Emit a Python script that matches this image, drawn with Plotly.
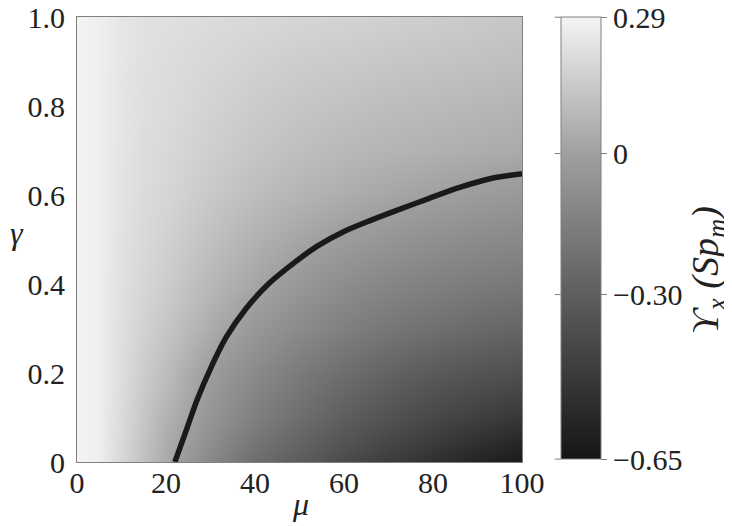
import plotly.graph_objects as go

# grid of the map (mu along x, gamma along y)
mu = [0, 5, 10, 15, 20, 30, 40, 50, 60, 70, 80, 90, 100]
gamma = [0.0, 0.1, 0.2, 0.3, 0.4, 0.5, 0.6, 0.7, 0.8, 0.9, 1.0]

ups_g00 = [0.29, 0.27, 0.19, 0.11, 0.035, -0.11, -0.23, -0.31, -0.39, -0.46, -0.52, -0.58, -0.63]
ups_g01 = [0.29, 0.27, 0.20, 0.13, 0.06, -0.05, -0.15, -0.23, -0.30, -0.36, -0.41, -0.45, -0.49]
ups_g02 = [0.29, 0.27, 0.21, 0.15, 0.10, -0.02, -0.10, -0.17, -0.23, -0.28, -0.32, -0.35, -0.37]
ups_g03 = [0.29, 0.27, 0.215, 0.17, 0.13, 0.04, -0.04, -0.10, -0.15, -0.19, -0.22, -0.25, -0.27]
ups_g04 = [0.29, 0.27, 0.22, 0.185, 0.155, 0.08, 0.02, -0.04, -0.085, -0.12, -0.145, -0.165, -0.18]
ups_g05 = [0.29, 0.27, 0.225, 0.195, 0.17, 0.11, 0.06, 0.017, -0.02, -0.05, -0.075, -0.095, -0.11]
ups_g06 = [0.29, 0.27, 0.23, 0.205, 0.185, 0.14, 0.10, 0.07, 0.045, 0.02, 0.0, -0.02, -0.036]
ups_g07 = [0.29, 0.27, 0.235, 0.21, 0.195, 0.16, 0.13, 0.105, 0.085, 0.07, 0.057, 0.045, 0.035]
ups_g08 = [0.29, 0.27, 0.237, 0.215, 0.205, 0.175, 0.15, 0.13, 0.115, 0.10, 0.09, 0.08, 0.07]
ups_g09 = [0.29, 0.27, 0.24, 0.22, 0.21, 0.19, 0.17, 0.155, 0.145, 0.133, 0.123, 0.114, 0.106]
ups_g10 = [0.29, 0.27, 0.24, 0.225, 0.22, 0.205, 0.195, 0.184, 0.177, 0.166, 0.156, 0.145, 0.134]

# zero level of the map (the thick black curve)
mu_zero = [22, 24.5, 27, 30, 33.5, 38, 43, 48.7, 54, 60, 66, 72, 79, 86, 93, 100]
gamma_zero = [0, 0.07, 0.14, 0.21, 0.28, 0.345, 0.40, 0.447, 0.485, 0.518, 0.543, 0.566,
              0.592, 0.617, 0.637, 0.648]

# colour bar
cbar_vals = [0.29, 0, -0.30, -0.65]
cbar_text = ['0.29', '0', '\u22120.30', '\u22120.65']

z = [ups_g00, ups_g01, ups_g02, ups_g03, ups_g04, ups_g05,
     ups_g06, ups_g07, ups_g08, ups_g09, ups_g10]

zmin, zmax = -0.65, 0.29
def pos(v):
    return (v - zmin) / (zmax - zmin)

greys = [[0, '#151515'], [pos(-0.30), '#5e5e5e'], [pos(0), '#a0a0a0'], [1, '#f4f4f4']]

serif = "'Liberation Serif', 'Times New Roman', serif"
ink = '#222222'
fs = 30

# colour bar placement (paper units)
cb_x, cb_y, cb_len = 1.087, 0.503, 0.993
cb_bottom = cb_y - cb_len / 2

fig = go.Figure()

fig.add_trace(go.Heatmap(
    x=mu, y=gamma, z=z,
    zmin=zmin, zmax=zmax, zsmooth='best',
    colorscale=greys,
    colorbar=dict(
        x=cb_x, xanchor='left', xpad=0,
        y=cb_y, yanchor='middle', ypad=0, len=cb_len, lenmode='fraction',
        thickness=40, thicknessmode='pixels',
        outlinecolor='#808080', outlinewidth=1,
        tickvals=cbar_vals, ticktext=cbar_text,
        ticks='outside', ticklen=6, tickcolor='#808080',
        ticklabeloverflow='allow',
        tickfont=dict(family=serif, size=fs, color=ink),
    ),
))

fig.add_trace(go.Scatter(
    x=mu_zero, y=gamma_zero, mode='lines',
    line=dict(color='#1a1a1a', width=5.5, shape='spline', smoothing=0.8),
    showlegend=False, hoverinfo='skip',
))

fig.update_xaxes(
    range=[0, 100], tickvals=[0, 20, 40, 60, 80, 100],
    ticks='', ticklabelstandoff=-6,
    ticklabeloverflow='allow',
    showgrid=False, zeroline=False, automargin=False,
    showline=True, linecolor='#808080', linewidth=1, mirror=True,
    tickfont=dict(family=serif, size=fs, color=ink),
)
fig.update_yaxes(
    range=[0, 1], tickvals=[0, 0.2, 0.4, 0.6, 0.8, 1.0],
    ticktext=['0', '0.2', '0.4', '0.6', '0.8', '1.0'],
    ticks='outside', ticklen=5, tickcolor='rgba(0,0,0,0)',
    ticklabeloverflow='allow',
    showgrid=False, zeroline=False, automargin=False,
    showline=True, linecolor='#808080', linewidth=1, mirror=True,
    tickfont=dict(family=serif, size=fs, color=ink),
)

# short ticks on the inner side of the colour bar too
for v in cbar_vals:
    yv = cb_bottom + cb_len * pos(v)
    fig.add_shape(type='line', xref='paper', yref='paper',
                  x0=cb_x - 6 / 445, x1=cb_x, y0=yv, y1=yv,
                  line=dict(color='#808080', width=1))

# axis and colour bar titles
fig.add_annotation(text='<i>\u03bc</i>', x=0.503, y=-0.05, xref='paper', yref='paper',
                   xanchor='center', yanchor='top', showarrow=False,
                   font=dict(family=serif, size=32, color=ink))
fig.add_annotation(text='<i>\u03b3</i>', x=-0.155, y=0.515, xref='paper', yref='paper',
                   xanchor='left', yanchor='middle', showarrow=False,
                   font=dict(family=serif, size=32, color=ink))
fig.add_annotation(text='<i>\u03d2<sub>x</sub> (Sp<sub>m</sub>)</i>', x=1.418, y=0.431,
                   xref='paper', yref='paper', xanchor='center', yanchor='middle',
                   textangle=-90, showarrow=False,
                   font=dict(family=serif, size=38, color=ink))

# the page adds an 8 px body margin, so the figure is 8 px smaller
fig.update_layout(
    width=724, height=518,
    margin=dict(l=69, r=210, t=9, b=64, autoexpand=False),
    paper_bgcolor='white', plot_bgcolor='white',
    showlegend=False,
)

fig.write_html("out.html")
